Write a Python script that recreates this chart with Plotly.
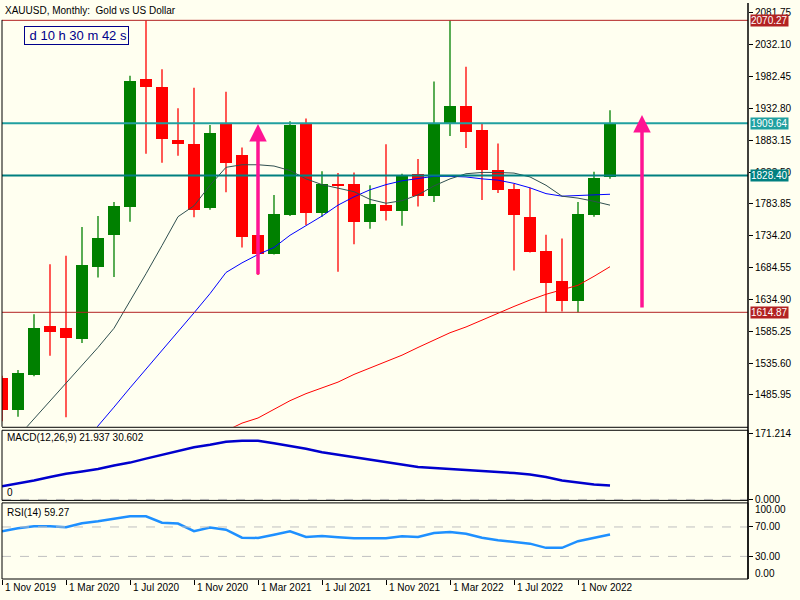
import plotly.graph_objects as go

# ---------------- data ----------------
months = ["Nov 2019","Dec 2019","Jan 2020","Feb 2020","Mar 2020","Apr 2020","May 2020","Jun 2020",
          "Jul 2020","Aug 2020","Sep 2020","Oct 2020","Nov 2020","Dec 2020","Jan 2021","Feb 2021",
          "Mar 2021","Apr 2021","May 2021","Jun 2021","Jul 2021","Aug 2021","Sep 2021","Oct 2021",
          "Nov 2021","Dec 2021","Jan 2022","Feb 2022","Mar 2022","Apr 2022","May 2022","Jun 2022",
          "Jul 2022","Aug 2022","Sep 2022","Oct 2022","Nov 2022","Dec 2022","Jan 2023"]
opens  = [1513,1463,1517,1593,1591,1573,1685,1735,1779,1979,1967,1884,1877,1777,1909,1860,1736,1706,1766,1908,
          1769,1814,1815,1755,1783,1773,1830,1797,1908,1937,1899,1837,1807,1764,1711,1663,1632,1767,1826]
highs  = [1516,1525,1612,1690,1703,1748,1765,1787,1984,2070,1994,1933,1965,1907,1959,1872,1761,1798,1913,1917,
          1835,1832,1833,1813,1877,1831,1854,1975,2070,1998,1909,1878,1815,1809,1736,1730,1787,1834,1930]
lows   = [1445,1452,1515,1547,1451,1567,1669,1670,1756,1862,1848,1859,1763,1775,1802,1716,1673,1705,1765,1751,
          1764,1678,1721,1745,1758,1750,1780,1787,1890,1871,1790,1801,1680,1708,1615,1616,1615,1764,1823]
closes = [1463,1520,1590,1584,1575,1688,1730,1781,1975,1967,1885,1877,1775,1894,1848,1733,1706,1768,1907,1769,
          1815,1812,1756,1784,1773,1829,1797,1909,1937,1896,1837,1806,1766,1709,1660,1632,1768,1824,1910]

ma_fast = [1393,1421,1449,1477,1505,1532,1560,1590,1632,1675,1719,1764,1781,1813,1841,1845,1845,1843,1836,1823,
           1814,1809,1803,1791,1785,1789,1798,1812,1823,1831,1833,1833,1832,1826,1813,1796,1793,1788,1782]
ma_mid  = [1290,1310,1330,1350,1379,1408,1438,1467,1497,1526,1556,1585,1614,1644,1677,1692,1705,1716,1735,1750,
           1765,1782,1795,1806,1814,1820,1824,1827,1827,1826,1823,1821,1816,1809,1800,1796,1797,1798,1799]
ma_slow = [1310,1318,1326,1334,1342,1350,1358,1366,1374,1382,1390,1398,1408,1418,1430,1442,1450,1463,1477,1488,
           1497,1506,1518,1528,1537,1548,1560,1572,1583,1592,1603,1614,1624,1634,1643,1650,1657,1671,1686]

macd = [34.5,41.5,49.3,58.4,66.7,72.6,79.1,88.2,96.0,106.4,116.7,127.1,136.2,142.7,150.5,153.0,153.0,146.6,140.0,132.3,
        123.2,116.7,109.0,102.5,96.0,89.5,84.3,81.7,79.6,76.5,73.4,71.3,68.7,64.9,58.4,49.3,44.1,38.9,36.3]
rsi = [64.2,68.2,70.9,70.9,69.6,75.0,77.7,81.1,84.5,84.5,75.7,74.6,64.2,69.2,66.2,55.4,55.1,59.5,64.2,56.5,
       57.8,56.1,54.7,54.7,54.7,57.4,56.5,61.9,63.2,60.8,55.4,52.0,50.0,47.3,41.6,41.6,50.7,54.7,59.7]

level_values = [2070.27, 1909.64, 1828.40, 1614.87]
level_colors = ["#B22222", "#20A0A0", "#008080", "#B22222"]
level_widths = [1, 2, 2, 1]

arrow_index = [16, 40]
arrow_from = [1671.7, 1619.9]
arrow_to = [1908.5, 1922.6]

price_ticks = [2081.75, 2032.10, 1982.45, 1932.80, 1883.15, 1833.50, 1783.85,
               1734.20, 1684.55, 1634.90, 1585.25, 1535.60, 1485.95]
date_tick_index = [0, 4, 8, 12, 16, 20, 24, 28, 32, 36]
date_tick_labels = ["1 Nov 2019", "1 Mar 2020", "1 Jul 2020", "1 Nov 2020", "1 Mar 2021",
                    "1 Jul 2021", "1 Nov 2021", "1 Mar 2022", "1 Jul 2022", "1 Nov 2022"]

# ---------------- layout helpers ----------------
W, H = 800, 600
L_M, R_M, T_M, B_M = 2, 52, 0, 21
PH = H - T_M - B_M          # plot height in px
PW = W - L_M - R_M

def py(p):   # pixel y -> paper y
    return (H - B_M - p) / PH

def px(p):   # pixel x -> paper x
    return (p - L_M) / PW

BG = "#FFFFF0"
FONT = "Liberation Sans"
idx = list(range(len(months)))

fig = go.Figure()

# wicks
for col, cond in (("#008000", lambda o, c: c >= o), ("#FF0000", lambda o, c: c < o)):
    xs, ys = [], []
    for i in idx:
        if cond(opens[i], closes[i]):
            xs += [i, i, None]
            ys += [lows[i], highs[i], None]
    fig.add_trace(go.Scatter(x=xs, y=ys, mode="lines", line=dict(color=col, width=1.3),
                             hoverinfo="skip", showlegend=False, xaxis="x", yaxis="y"))

# bodies
for col, cond in (("#008000", lambda o, c: c >= o), ("#FF0000", lambda o, c: c < o)):
    sel = [i for i in idx if cond(opens[i], closes[i])]
    fig.add_trace(go.Bar(x=sel,
                         y=[max(abs(closes[i] - opens[i]), 1.5) for i in sel],
                         base=[min(opens[i], closes[i]) for i in sel],
                         width=0.69, marker=dict(color=col, line=dict(width=0)),
                         showlegend=False, xaxis="x", yaxis="y"))

# moving averages
fig.add_trace(go.Scatter(x=idx, y=ma_slow, mode="lines", line=dict(color="#FF0000", width=1),
                         showlegend=False, xaxis="x", yaxis="y"))
fig.add_trace(go.Scatter(x=idx, y=ma_mid, mode="lines", line=dict(color="#0000FF", width=1),
                         showlegend=False, xaxis="x", yaxis="y"))
fig.add_trace(go.Scatter(x=idx, y=ma_fast, mode="lines", line=dict(color="#2F4F4F", width=1),
                         showlegend=False, xaxis="x", yaxis="y"))

# MACD and RSI
fig.add_trace(go.Scatter(x=idx, y=macd, mode="lines", line=dict(color="#0000CD", width=2.5),
                         showlegend=False, xaxis="x", yaxis="y2"))
fig.add_trace(go.Scatter(x=idx, y=rsi, mode="lines", line=dict(color="#1E90FF", width=2.5),
                         showlegend=False, xaxis="x", yaxis="y3"))

shapes = []
annotations = []

# horizontal price levels + right labels
for v, c, w in zip(level_values, level_colors, level_widths):
    shapes.append(dict(type="line", xref="paper", yref="y", x0=0, x1=1, y0=v, y1=v,
                       line=dict(color=c, width=w), layer="above"))
    annotations.append(dict(xref="paper", yref="y", x=px(750), y=v, xanchor="left", yanchor="middle",
                            text=f"{v:.2f}", showarrow=False, bgcolor=c, borderpad=0,
                            font=dict(family=FONT, size=10, color="white")))

# indicator dashed levels
shapes.append(dict(type="line", xref="paper", yref="y2", x0=0, x1=1, y0=0, y1=0,
                   line=dict(color="#C0C0C0", width=1, dash="dash")))
for v in (70, 30):
    shapes.append(dict(type="line", xref="paper", yref="y3", x0=0, x1=1, y0=v, y1=v,
                       line=dict(color="#C0C0C0", width=1, dash="dash")))

# frames
blk = dict(color="black", width=1)
shapes.append(dict(type="line", xref="paper", yref="paper", x0=0, x1=0, y0=py(426), y1=py(17), line=blk))
shapes.append(dict(type="line", xref="paper", yref="paper", x0=0, x1=1, y0=py(426.5), y1=py(426.5), line=blk))
shapes.append(dict(type="rect", xref="paper", yref="paper", x0=0, x1=1, y0=py(500), y1=py(429.5), line=blk))
shapes.append(dict(type="rect", xref="paper", yref="paper", x0=0, x1=1, y0=py(579), y1=py(502.5), line=blk))
shapes.append(dict(type="line", xref="paper", yref="paper", x0=1, x1=1, y0=0, y1=1, line=dict(color="black", width=1.5)))

# arrows
for i, a0, a1 in zip(arrow_index, arrow_from, arrow_to):
    annotations.append(dict(x=i, y=a1, xref="x", yref="y", ax=i, ay=a0, axref="x", ayref="y",
                            showarrow=True, arrowhead=2, arrowsize=1.0, arrowwidth=3.5,
                            arrowcolor="#FF1493", text="", standoff=0))

# texts
txt = dict(family=FONT, size=10, color="black")
annotations.append(dict(xref="paper", yref="paper", x=px(3), y=py(8), xanchor="left", yanchor="middle",
                        text="XAUUSD, Monthly:  Gold vs US Dollar", showarrow=False, font=txt))
annotations.append(dict(xref="paper", yref="paper", x=px(24), y=py(33), xanchor="left", yanchor="middle",
                        text=" d 10 h 30 m 42 s", showarrow=False, bordercolor="#00008B", borderwidth=1,
                        borderpad=1, font=dict(family=FONT, size=13, color="#00008B")))
annotations.append(dict(xref="paper", yref="paper", x=px(5), y=py(437), xanchor="left", yanchor="middle",
                        text="MACD(12,26,9) 21.937 30.602", showarrow=False, font=txt))
annotations.append(dict(xref="paper", yref="paper", x=px(5), y=py(492), xanchor="left", yanchor="middle",
                        text="0", showarrow=False, font=txt))
annotations.append(dict(xref="paper", yref="paper", x=px(5), y=py(512), xanchor="left", yanchor="middle",
                        text="RSI(14) 59.27", showarrow=False, font=txt))
annotations.append(dict(xref="paper", yref="paper", x=px(753), y=py(509), xanchor="left", yanchor="middle",
                        text="100.00", showarrow=False, font=txt))
annotations.append(dict(xref="paper", yref="paper", x=px(753), y=py(573), xanchor="left", yanchor="middle",
                        text="0.00", showarrow=False, font=txt))
for i, lab in zip(date_tick_index, date_tick_labels):
    annotations.append(dict(xref="x", yref="paper", x=i, y=py(588), xanchor="left", yanchor="middle",
                            xshift=1, text=lab, showarrow=False, font=txt))

axis_common = dict(showgrid=False, zeroline=False, showline=False, side="right", anchor="x",
                   ticks="outside", ticklen=4, tickcolor="black", tickfont=txt, fixedrange=True)

fig.update_layout(
    width=W, height=H, margin=dict(l=L_M, r=R_M, t=T_M, b=B_M),
    paper_bgcolor=BG, plot_bgcolor=BG, barmode="overlay", bargap=0,
    showlegend=False, hovermode=False,
    xaxis=dict(range=[0, (748 - 2) / 16], showgrid=False, zeroline=False, showline=False,
               anchor="y3", tickvals=date_tick_index, ticks="outside", ticklen=5,
               tickcolor="black", showticklabels=False, fixedrange=True),
    yaxis=dict(domain=[py(426), 1], range=[1436.3, 2097.3], tickvals=price_ticks,
               ticktext=[f"{v:.2f}" for v in price_ticks], **axis_common),
    yaxis2=dict(domain=[py(500), py(430)], range=[-2.6, 179.0], tickvals=[171.214, 0],
                ticktext=["171.214", "0.000"], **axis_common),
    yaxis3=dict(domain=[0, py(503)], range=[-0.7, 102.0], tickvals=[70, 30],
                ticktext=["70.00", "30.00"], **axis_common),
    shapes=shapes, annotations=annotations,
)

fig.write_html("out.html", config={"displayModeBar": False},
               post_script="document.body.style.margin='0';document.body.style.background='#FFFFF0';")
